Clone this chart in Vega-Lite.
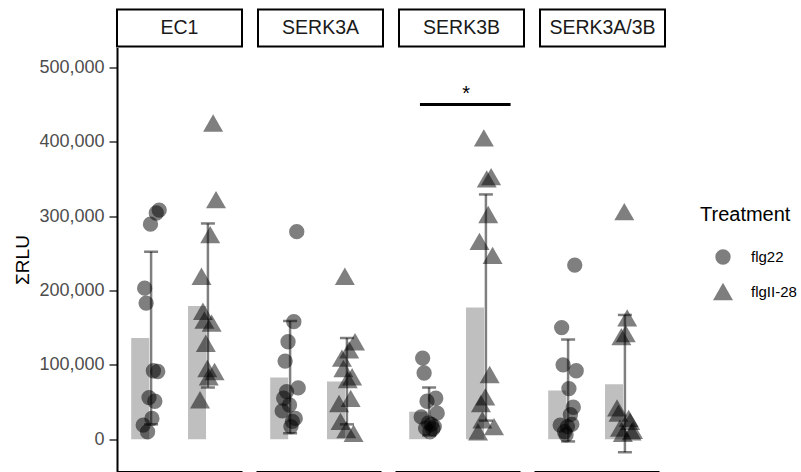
{
  "$schema": "https://vega.github.io/schema/vega-lite/v6.json",
  "padding": {"left": 13, "top": 8.5, "right": 5, "bottom": 0},
  "background": "white",
  "config": {
    "font": "Liberation Sans",
    "view": {"stroke": null},
    "axis": {"grid": false}
  },
  "datasets": {
    "strips": [
      {"panel": "EC1"}, {"panel": "SERK3A"}, {"panel": "SERK3B"}, {"panel": "SERK3A/3B"}
    ],
    "main": [
      {"kind": "point", "panel": "EC1", "treatment": "flg22", "rep": 1, "rlu": 19000},
      {"kind": "point", "panel": "EC1", "treatment": "flg22", "rep": 2, "rlu": 203000},
      {"kind": "point", "panel": "EC1", "treatment": "flg22", "rep": 3, "rlu": 183000},
      {"kind": "point", "panel": "EC1", "treatment": "flg22", "rep": 4, "rlu": 10000},
      {"kind": "point", "panel": "EC1", "treatment": "flg22", "rep": 5, "rlu": 56000},
      {"kind": "point", "panel": "EC1", "treatment": "flg22", "rep": 6, "rlu": 289000},
      {"kind": "point", "panel": "EC1", "treatment": "flg22", "rep": 7, "rlu": 28000},
      {"kind": "point", "panel": "EC1", "treatment": "flg22", "rep": 8, "rlu": 92000},
      {"kind": "point", "panel": "EC1", "treatment": "flg22", "rep": 9, "rlu": 51000},
      {"kind": "point", "panel": "EC1", "treatment": "flg22", "rep": 10, "rlu": 304000},
      {"kind": "point", "panel": "EC1", "treatment": "flg22", "rep": 11, "rlu": 91000},
      {"kind": "point", "panel": "EC1", "treatment": "flg22", "rep": 12, "rlu": 308000},
      {"kind": "point", "panel": "EC1", "treatment": "flgII-28", "rep": 1, "rlu": 53000},
      {"kind": "point", "panel": "EC1", "treatment": "flgII-28", "rep": 2, "rlu": 219000},
      {"kind": "point", "panel": "EC1", "treatment": "flgII-28", "rep": 3, "rlu": 172000},
      {"kind": "point", "panel": "EC1", "treatment": "flgII-28", "rep": 4, "rlu": 160000},
      {"kind": "point", "panel": "EC1", "treatment": "flgII-28", "rep": 5, "rlu": 129000},
      {"kind": "point", "panel": "EC1", "treatment": "flgII-28", "rep": 6, "rlu": 95000},
      {"kind": "point", "panel": "EC1", "treatment": "flgII-28", "rep": 7, "rlu": 84000},
      {"kind": "point", "panel": "EC1", "treatment": "flgII-28", "rep": 8, "rlu": 275000},
      {"kind": "point", "panel": "EC1", "treatment": "flgII-28", "rep": 9, "rlu": 156000},
      {"kind": "point", "panel": "EC1", "treatment": "flgII-28", "rep": 10, "rlu": 425000},
      {"kind": "point", "panel": "EC1", "treatment": "flgII-28", "rep": 11, "rlu": 91000},
      {"kind": "point", "panel": "EC1", "treatment": "flgII-28", "rep": 12, "rlu": 322000},
      {"kind": "point", "panel": "SERK3A", "treatment": "flg22", "rep": 1, "rlu": 38000},
      {"kind": "point", "panel": "SERK3A", "treatment": "flg22", "rep": 2, "rlu": 55000},
      {"kind": "point", "panel": "SERK3A", "treatment": "flg22", "rep": 3, "rlu": 105000},
      {"kind": "point", "panel": "SERK3A", "treatment": "flg22", "rep": 4, "rlu": 64000},
      {"kind": "point", "panel": "SERK3A", "treatment": "flg22", "rep": 5, "rlu": 131000},
      {"kind": "point", "panel": "SERK3A", "treatment": "flg22", "rep": 6, "rlu": 46000},
      {"kind": "point", "panel": "SERK3A", "treatment": "flg22", "rep": 7, "rlu": 17000},
      {"kind": "point", "panel": "SERK3A", "treatment": "flg22", "rep": 8, "rlu": 24000},
      {"kind": "point", "panel": "SERK3A", "treatment": "flg22", "rep": 9, "rlu": 158000},
      {"kind": "point", "panel": "SERK3A", "treatment": "flg22", "rep": 10, "rlu": 28000},
      {"kind": "point", "panel": "SERK3A", "treatment": "flg22", "rep": 11, "rlu": 279000},
      {"kind": "point", "panel": "SERK3A", "treatment": "flg22", "rep": 12, "rlu": 69000},
      {"kind": "point", "panel": "SERK3A", "treatment": "flgII-28", "rep": 1, "rlu": 48000},
      {"kind": "point", "panel": "SERK3A", "treatment": "flgII-28", "rep": 2, "rlu": 24000},
      {"kind": "point", "panel": "SERK3A", "treatment": "flgII-28", "rep": 3, "rlu": 109000},
      {"kind": "point", "panel": "SERK3A", "treatment": "flgII-28", "rep": 4, "rlu": 95000},
      {"kind": "point", "panel": "SERK3A", "treatment": "flgII-28", "rep": 5, "rlu": 219000},
      {"kind": "point", "panel": "SERK3A", "treatment": "flgII-28", "rep": 6, "rlu": 13000},
      {"kind": "point", "panel": "SERK3A", "treatment": "flgII-28", "rep": 7, "rlu": 80000},
      {"kind": "point", "panel": "SERK3A", "treatment": "flgII-28", "rep": 8, "rlu": 120000},
      {"kind": "point", "panel": "SERK3A", "treatment": "flgII-28", "rep": 9, "rlu": 55000},
      {"kind": "point", "panel": "SERK3A", "treatment": "flgII-28", "rep": 10, "rlu": 84000},
      {"kind": "point", "panel": "SERK3A", "treatment": "flgII-28", "rep": 11, "rlu": 8000},
      {"kind": "point", "panel": "SERK3A", "treatment": "flgII-28", "rep": 12, "rlu": 131000},
      {"kind": "point", "panel": "SERK3B", "treatment": "flg22", "rep": 1, "rlu": 30000},
      {"kind": "point", "panel": "SERK3B", "treatment": "flg22", "rep": 2, "rlu": 109000},
      {"kind": "point", "panel": "SERK3B", "treatment": "flg22", "rep": 3, "rlu": 89000},
      {"kind": "point", "panel": "SERK3B", "treatment": "flg22", "rep": 4, "rlu": 15000},
      {"kind": "point", "panel": "SERK3B", "treatment": "flg22", "rep": 5, "rlu": 51000},
      {"kind": "point", "panel": "SERK3B", "treatment": "flg22", "rep": 6, "rlu": 22000},
      {"kind": "point", "panel": "SERK3B", "treatment": "flg22", "rep": 7, "rlu": 10000},
      {"kind": "point", "panel": "SERK3B", "treatment": "flg22", "rep": 8, "rlu": 20000},
      {"kind": "point", "panel": "SERK3B", "treatment": "flg22", "rep": 9, "rlu": 14000},
      {"kind": "point", "panel": "SERK3B", "treatment": "flg22", "rep": 10, "rlu": 17000},
      {"kind": "point", "panel": "SERK3B", "treatment": "flg22", "rep": 11, "rlu": 55000},
      {"kind": "point", "panel": "SERK3B", "treatment": "flg22", "rep": 12, "rlu": 35000},
      {"kind": "point", "panel": "SERK3B", "treatment": "flgII-28", "rep": 1, "rlu": 10000},
      {"kind": "point", "panel": "SERK3B", "treatment": "flgII-28", "rep": 2, "rlu": 266000},
      {"kind": "point", "panel": "SERK3B", "treatment": "flgII-28", "rep": 3, "rlu": 48000},
      {"kind": "point", "panel": "SERK3B", "treatment": "flgII-28", "rep": 4, "rlu": 26000},
      {"kind": "point", "panel": "SERK3B", "treatment": "flgII-28", "rep": 5, "rlu": 405000},
      {"kind": "point", "panel": "SERK3B", "treatment": "flgII-28", "rep": 6, "rlu": 57000},
      {"kind": "point", "panel": "SERK3B", "treatment": "flgII-28", "rep": 7, "rlu": 350000},
      {"kind": "point", "panel": "SERK3B", "treatment": "flgII-28", "rep": 8, "rlu": 302000},
      {"kind": "point", "panel": "SERK3B", "treatment": "flgII-28", "rep": 9, "rlu": 87000},
      {"kind": "point", "panel": "SERK3B", "treatment": "flgII-28", "rep": 10, "rlu": 353000},
      {"kind": "point", "panel": "SERK3B", "treatment": "flgII-28", "rep": 11, "rlu": 247000},
      {"kind": "point", "panel": "SERK3B", "treatment": "flgII-28", "rep": 12, "rlu": 17000},
      {"kind": "point", "panel": "SERK3A/3B", "treatment": "flg22", "rep": 1, "rlu": 19000},
      {"kind": "point", "panel": "SERK3A/3B", "treatment": "flg22", "rep": 2, "rlu": 150000},
      {"kind": "point", "panel": "SERK3A/3B", "treatment": "flg22", "rep": 3, "rlu": 100000},
      {"kind": "point", "panel": "SERK3A/3B", "treatment": "flg22", "rep": 4, "rlu": 10000},
      {"kind": "point", "panel": "SERK3A/3B", "treatment": "flg22", "rep": 5, "rlu": 6000},
      {"kind": "point", "panel": "SERK3A/3B", "treatment": "flg22", "rep": 6, "rlu": 17000},
      {"kind": "point", "panel": "SERK3A/3B", "treatment": "flg22", "rep": 7, "rlu": 68000},
      {"kind": "point", "panel": "SERK3A/3B", "treatment": "flg22", "rep": 8, "rlu": 33000},
      {"kind": "point", "panel": "SERK3A/3B", "treatment": "flg22", "rep": 9, "rlu": 20000},
      {"kind": "point", "panel": "SERK3A/3B", "treatment": "flg22", "rep": 10, "rlu": 43000},
      {"kind": "point", "panel": "SERK3A/3B", "treatment": "flg22", "rep": 11, "rlu": 234000},
      {"kind": "point", "panel": "SERK3A/3B", "treatment": "flg22", "rep": 12, "rlu": 92000},
      {"kind": "point", "panel": "SERK3A/3B", "treatment": "flgII-28", "rep": 1, "rlu": 42000},
      {"kind": "point", "panel": "SERK3A/3B", "treatment": "flgII-28", "rep": 2, "rlu": 35000},
      {"kind": "point", "panel": "SERK3A/3B", "treatment": "flgII-28", "rep": 3, "rlu": 15000},
      {"kind": "point", "panel": "SERK3A/3B", "treatment": "flgII-28", "rep": 4, "rlu": 138000},
      {"kind": "point", "panel": "SERK3A/3B", "treatment": "flgII-28", "rep": 5, "rlu": 8000},
      {"kind": "point", "panel": "SERK3A/3B", "treatment": "flgII-28", "rep": 6, "rlu": 306000},
      {"kind": "point", "panel": "SERK3A/3B", "treatment": "flgII-28", "rep": 7, "rlu": 142000},
      {"kind": "point", "panel": "SERK3A/3B", "treatment": "flgII-28", "rep": 8, "rlu": 163000},
      {"kind": "point", "panel": "SERK3A/3B", "treatment": "flgII-28", "rep": 9, "rlu": 28000},
      {"kind": "point", "panel": "SERK3A/3B", "treatment": "flgII-28", "rep": 10, "rlu": 24000},
      {"kind": "point", "panel": "SERK3A/3B", "treatment": "flgII-28", "rep": 11, "rlu": 10000},
      {"kind": "point", "panel": "SERK3A/3B", "treatment": "flgII-28", "rep": 12, "rlu": 12000},
      {"kind": "summary", "panel": "EC1", "treatment": "flg22", "mean": 136000, "lower": 20000, "upper": 252000},
      {"kind": "summary", "panel": "EC1", "treatment": "flgII-28", "mean": 179000, "lower": 69500, "upper": 290000},
      {"kind": "summary", "panel": "SERK3A", "treatment": "flg22", "mean": 83000, "lower": 8000, "upper": 159000},
      {"kind": "summary", "panel": "SERK3A", "treatment": "flgII-28", "mean": 77600, "lower": 20000, "upper": 136000},
      {"kind": "summary", "panel": "SERK3B", "treatment": "flg22", "mean": 37000, "lower": 5000, "upper": 69500},
      {"kind": "summary", "panel": "SERK3B", "treatment": "flgII-28", "mean": 177000, "lower": 25000, "upper": 329000},
      {"kind": "summary", "panel": "SERK3A/3B", "treatment": "flg22", "mean": 65500, "lower": -3000, "upper": 134000},
      {"kind": "summary", "panel": "SERK3A/3B", "treatment": "flgII-28", "mean": 74000, "lower": -17500, "upper": 167000},
      {"kind": "sig", "panel": "SERK3B", "g1": "flg22", "g2": "flgII-28", "y": 450000, "label": "*"}
    ]
  },
  "vconcat": [
    {
      "data": {"name": "strips"},
      "facet": {
        "column": {
          "field": "panel", "type": "nominal",
          "sort": ["EC1", "SERK3A", "SERK3B", "SERK3A/3B"],
          "header": {"labels": false, "title": null}
        }
      },
      "spacing": 14,
      "spec": {
        "width": 125,
        "height": 37,
        "view": {"stroke": "black", "strokeWidth": 2, "fill": "white"},
        "mark": {"type": "text", "fontSize": 19.5, "font": "Liberation Sans", "color": "#1a1a1a"},
        "encoding": {"text": {"field": "panel", "type": "nominal"}}
      }
    },
    {
      "data": {"name": "main"},
      "facet": {
        "column": {
          "field": "panel", "type": "nominal",
          "sort": ["EC1", "SERK3A", "SERK3B", "SERK3A/3B"],
          "header": {"labels": false, "title": null}
        }
      },
      "spacing": 14,
      "spec": {
        "width": 125,
        "height": 424,
        "view": {"stroke": null},
        "encoding": {
          "x": {
            "field": "treatment", "type": "nominal",
            "scale": {"domain": ["flg22", "flgII-28"], "paddingInner": 0.3, "paddingOuter": 0.25},
            "axis": {"labels": false, "ticks": false, "title": null, "domainColor": "black", "domainWidth": 2}
          }
        },
        "layer": [
          {
            "transform": [{"filter": "datum.kind === 'summary'"}],
            "mark": {"type": "bar", "color": "#bfbfbf"},
            "encoding": {
              "y": {
                "field": "mean", "type": "quantitative",
                "scale": {"domain": [-43400, 526500], "nice": false, "zero": false},
                "axis": {
                  "values": [0, 100000, 200000, 300000, 400000, 500000],
                  "format": ",d",
                  "title": "ΣRLU",
                  "titleFont": "Liberation Sans",
                  "titleFontSize": 19,
                  "titleFontWeight": "normal",
                  "titleColor": "black",
                  "titlePadding": 6,
                  "labelFont": "Liberation Sans",
                  "labelFontSize": 18,
                  "labelColor": "#4d4d4d",
                  "labelPadding": 5,
                  "tickSize": 8,
                  "tickWidth": 1.5,
                  "tickColor": "#333333",
                  "domainColor": "black",
                  "domainWidth": 2
                }
              }
            }
          },
          {
            "transform": [{"filter": "datum.kind === 'summary'"}],
            "mark": {"type": "rule", "color": "black", "opacity": 0.5, "strokeWidth": 2.5},
            "encoding": {
              "y": {"field": "lower", "type": "quantitative"},
              "y2": {"field": "upper"}
            }
          },
          {
            "transform": [{"filter": "datum.kind === 'summary'"}],
            "mark": {"type": "tick", "color": "black", "opacity": 0.5, "size": 14, "thickness": 2.5},
            "encoding": {"y": {"field": "lower", "type": "quantitative"}}
          },
          {
            "transform": [{"filter": "datum.kind === 'summary'"}],
            "mark": {"type": "tick", "color": "black", "opacity": 0.5, "size": 14, "thickness": 2.5},
            "encoding": {"y": {"field": "upper", "type": "quantitative"}}
          },
          {
            "transform": [{"filter": "datum.kind === 'point'"}],
            "mark": {"type": "point", "filled": true, "color": "black", "opacity": 0.5, "strokeWidth": 0},
            "encoding": {
              "xOffset": {
                "field": "rep", "type": "ordinal",
                "scale": {"type": "point", "domain": [1, 2, 3, 4, 5, 6, 7, 8, 9, 10, 11, 12], "range": [12, 28], "padding": 0}
              },
              "y": {"field": "rlu", "type": "quantitative"},
              "shape": {
                "field": "treatment", "type": "nominal",
                "scale": {"domain": ["flg22", "flgII-28"], "range": ["circle", "triangle-up"]},
                "legend": {
                  "title": "Treatment", "orient": "none", "legendX": 583, "legendY": 195,
                  "titleFont": "Liberation Sans", "titleFontSize": 20, "titleFontWeight": "normal", "titleColor": "black",
                  "titlePadding": 24,
                  "labelFont": "Liberation Sans", "labelFontSize": 15, "labelColor": "black",
                  "labelOffset": 17, "symbolOffset": 12, "rowPadding": 11
                }
              },
              "size": {
                "field": "treatment", "type": "nominal",
                "scale": {"domain": ["flg22", "flgII-28"], "range": [235, 400]},
                "legend": {
                  "title": "Treatment", "orient": "none", "legendX": 583, "legendY": 195,
                  "titleFont": "Liberation Sans", "titleFontSize": 20, "titleFontWeight": "normal", "titleColor": "black",
                  "titlePadding": 24,
                  "labelFont": "Liberation Sans", "labelFontSize": 15, "labelColor": "black",
                  "labelOffset": 17, "symbolOffset": 12, "rowPadding": 11
                }
              }
            }
          },
          {
            "transform": [{"filter": "datum.kind === 'sig'"}],
            "mark": {"type": "rule", "color": "black", "strokeWidth": 3},
            "encoding": {
              "x": {"field": "g1", "type": "nominal", "bandPosition": 0.27},
              "x2": {"field": "g2", "bandPosition": 1.12},
              "y": {"field": "y", "type": "quantitative"}
            }
          },
          {
            "transform": [{"filter": "datum.kind === 'sig'"}],
            "mark": {"type": "text", "fontSize": 20, "font": "Liberation Sans", "color": "black", "baseline": "alphabetic", "align": "center", "dy": -4},
            "encoding": {
              "x": {"field": "g2", "type": "nominal", "bandPosition": 0},
              "y": {"field": "y", "type": "quantitative"},
              "text": {"field": "label"}
            }
          }
        ]
      }
    }
  ],
  "spacing": 0
}
